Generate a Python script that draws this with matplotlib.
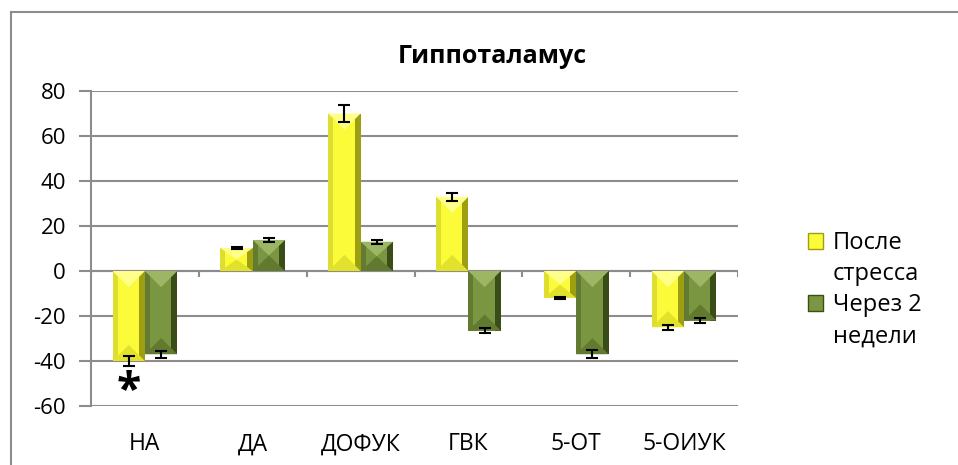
import numpy as np
import matplotlib
matplotlib.use("Agg")
import matplotlib.pyplot as plt
from matplotlib.patches import Polygon, Patch
from matplotlib.lines import Line2D

plt.rcParams['font.family'] = ['Open Sans', 'DejaVu Sans']
plt.rcParams['axes.unicode_minus'] = False

categories = ["НА", "ДА", "ДОФУК", "ГВК", "5-ОТ", "5-ОИУК"]
after_stress = [-40, 10.2, 70, 33, -12, -25]
after_stress_err = [2.1, 0.4, 3.7, 1.8, 0.5, 1.2]
two_weeks = [-37, 13.8, 13, -26.5, -37, -22]
two_weeks_err = [1.5, 0.8, 0.8, 1.2, 1.8, 1.0]

yellow = dict(main="#fbfb3a", top="#ffff8a", bottom="#e2e22c", left="#dede30", right="#9e9e12")
green = dict(main="#7b9640", top="#9cb665", bottom="#627a30", left="#627a32", right="#3a4c18")
grid_col = "#8c8c8c"

fig = plt.figure(figsize=(9.58, 4.65), dpi=100)
ax = fig.add_axes([91/958, 1-406/465, 647/958, 315/465])

x = np.arange(len(categories))
w = 0.3
ax.set_xlim(-0.5, len(categories) - 0.5)
ax.set_ylim(-60, 80)

bars1 = ax.bar(x - w/2, after_stress, w, color=yellow["main"], zorder=3)
bars2 = ax.bar(x + w/2, two_weeks, w, color=green["main"], zorder=3)

# pixel scale, for the bevel look
bb = ax.get_window_extent()
px_x = bb.width / (ax.get_xlim()[1] - ax.get_xlim()[0])
px_y = bb.height / (ax.get_ylim()[1] - ax.get_ylim()[0])


def bevel(bar, col):
    x0 = bar.get_x()
    x1 = x0 + bar.get_width()
    xc = (x0 + x1) / 2
    ya = bar.get_y()
    yb = ya + bar.get_height()
    lo, hi = min(ya, yb), max(ya, yb)
    by = min((hi - lo) / 2, bar.get_width() / 2 * px_x / px_y)
    sl = 5 / px_x
    sr = 6 / px_x
    faces = [
        ([(x0, lo), (x0+sl, lo), (x0+sl, hi), (x0, hi)], col["left"]),
        ([(x1-sr, lo), (x1, lo), (x1, hi), (x1-sr, hi)], col["right"]),
        ([(x0, hi), (x1, hi), (xc, hi-by)], col["top"]),
        ([(x0, lo), (x1, lo), (xc, lo+by)], col["bottom"]),
    ]
    for pts, c in faces:
        ax.add_patch(Polygon(pts, closed=True, facecolor=c, edgecolor="none", zorder=3.5))


for b in bars1:
    bevel(b, yellow)
for b in bars2:
    bevel(b, green)

ax.errorbar(x - w/2, after_stress, yerr=after_stress_err, fmt="none", ecolor="black",
            elinewidth=1.5, capsize=4.5, capthick=1.5, zorder=5)
ax.errorbar(x + w/2, two_weeks, yerr=two_weeks_err, fmt="none", ecolor="black",
            elinewidth=1.5, capsize=4.5, capthick=1.5, zorder=5)

# significance mark
ax.text(x[0] - w/2, -53.5, "*", ha="center", va="center", fontsize=32,
        fontweight="bold", color="black", zorder=5)

# axes styling
ax.set_yticks(np.arange(-60, 81, 20))
ax.yaxis.grid(True, color=grid_col, linewidth=1.5, zorder=0)
ax.set_axisbelow(True)
for s in ["top", "right", "bottom"]:
    ax.spines[s].set_visible(False)
ax.spines["left"].set_color(grid_col)
ax.spines["left"].set_linewidth(1.5)
ax.tick_params(axis="y", length=9, width=1.5, color=grid_col, pad=9, labelsize=16)
ax.set_xticks(x, categories)
ax.tick_params(axis="x", length=0, pad=19, labelsize=16.5)

ax.axhline(0, color=grid_col, linewidth=1.5, zorder=2)
ax.vlines(np.arange(-0.5, len(categories)), 0, -6/px_y, color=grid_col, linewidth=1.5, zorder=2)

ax.set_title("Гиппоталамус", fontsize=18, fontweight="bold", x=0.62, pad=20)

# legend: handle next to the first line of each name
handles = [Patch(facecolor=yellow["main"], edgecolor=yellow["right"]),
           Patch(facecolor="none", edgecolor="none"),
           Patch(facecolor=green["main"], edgecolor=green["right"]),
           Patch(facecolor="none", edgecolor="none")]
labels = ["После", "стресса", "Через 2", "недели"]
fig.legend(handles, labels, loc="upper left", bbox_to_anchor=(808/958, 1-231/465),
           frameon=False, fontsize=17, handlelength=0.65, handleheight=0.65,
           handletextpad=0.4, labelspacing=0.3, borderpad=0, borderaxespad=0)

# chart frame
fig.add_artist(Line2D([11/958, 11/958], [0, 1-12/465], color="#8c8c8c", lw=1.5))
fig.add_artist(Line2D([11/958, 1], [1-12/465, 1-12/465], color="#8c8c8c", lw=1.5))

fig.savefig("out.png", dpi=100)
